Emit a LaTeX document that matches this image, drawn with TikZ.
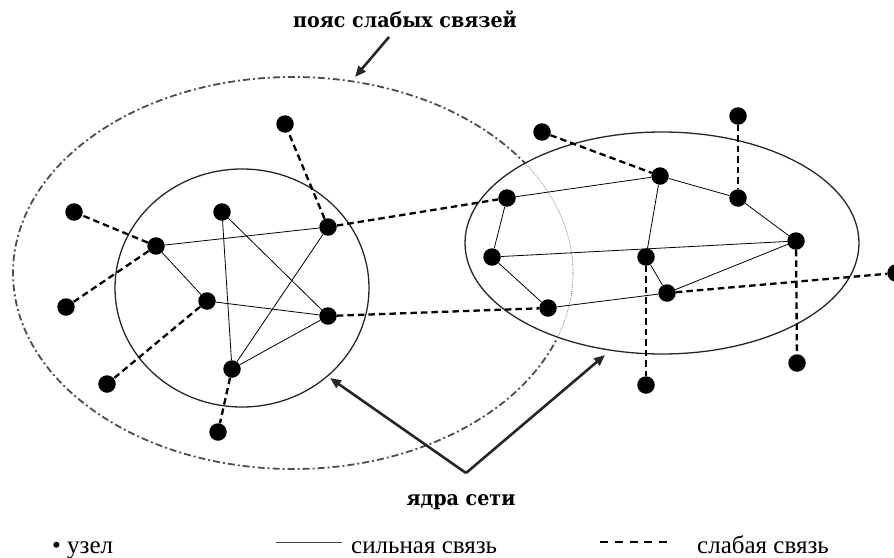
\documentclass[tikz,border=0pt]{standalone}
\usepackage{fontspec}
\setmainfont{Liberation Serif}
\newfontfamily\titlefont{DejaVu Serif}
\usetikzlibrary{arrows.meta}
\begin{document}
\begin{tikzpicture}[x=1pt, y=-1pt,
  dot/.style={circle, fill=black, inner sep=0pt, minimum size=17.5pt},
  strong/.style={line width=0.8pt, black},
  weak/.style={line width=2.3pt, black, dash pattern=on 6.5pt off 4pt},
  core/.style={line width=1.3pt, black!85},
  belt/.style={line width=1.8pt, black!70, dash pattern=on 7pt off 3pt on 2pt off 3pt},
  beltin/.style={line width=0.6pt, black!55, dash pattern=on 1pt off 1pt},
  pointer/.style={line width=2.6pt, black!85, -{Triangle[length=11pt, width=9pt]}},
  title/.style={font=\titlefont\bfseries\fontsize{20.5}{24}\selectfont, inner sep=0pt},
  legend/.style={font=\fontsize{25}{30}\selectfont, inner sep=0pt, anchor=base west}
]
\useasboundingbox (0,0) rectangle (894,557);

% outer belt (dash-dot), lighter dotted inside right core
\begin{scope}[even odd rule]
  \clip (-10,-10) rectangle (904,567) (662,243) ellipse [x radius=197pt, y radius=111pt];
  \draw[belt] (293,273) ellipse [x radius=280pt, y radius=196pt];
\end{scope}
\begin{scope}
  \clip (662,243) ellipse [x radius=197pt, y radius=111pt];
  \draw[beltin] (293,273) ellipse [x radius=280pt, y radius=196pt];
\end{scope}

% cores
\draw[core] (242,288) ellipse [x radius=127pt, y radius=119pt];
\draw[core] (662,243) ellipse [x radius=197pt, y radius=111pt];

% left cluster nodes
\node[dot] (L1) at (156,246) {};
\node[dot] (L2) at (222,212) {};
\node[dot] (L3) at (328,227) {};
\node[dot] (L4) at (207,301) {};
\node[dot] (L5) at (328,316) {};
\node[dot] (L6) at (232,369) {};
\node[dot] (O1) at (74,212) {};
\node[dot] (O2) at (66,307) {};
\node[dot] (O3) at (107,384) {};
\node[dot] (O4) at (218,432) {};
\node[dot] (O5) at (285,124) {};

% right cluster nodes
\node[dot] (R1) at (507,198) {};
\node[dot] (R2) at (492,257) {};
\node[dot] (R3) at (548,308) {};
\node[dot] (R4) at (660,176) {};
\node[dot] (R5) at (738,198) {};
\node[dot] (R6) at (796,241) {};
\node[dot] (R7) at (646,257) {};
\node[dot] (R8) at (667,293) {};
\node[dot] (R9) at (542,132) {};
\node[dot] (R10) at (738,116) {};
\node[dot] (R11) at (646,385) {};
\node[dot] (R12) at (797,363) {};
\node[dot] (R13) at (896,273) {};

% strong links
\draw[strong] (L1) -- (L3);
\draw[strong] (L1) -- (L4);
\draw[strong] (L2) -- (L6);
\draw[strong] (L2) -- (L5);
\draw[strong] (L3) -- (L6);
\draw[strong] (L4) -- (L5);
\draw[strong] (L6) -- (L5);
\draw[strong] (R1) -- (R4);
\draw[strong] (R1) -- (R2);
\draw[strong] (R2) -- (R6);
\draw[strong] (R2) -- (R3);
\draw[strong] (R3) -- (R8);
\draw[strong] (R4) -- (R7);
\draw[strong] (R4) -- (R5);
\draw[strong] (R5) -- (R6);
\draw[strong] (R7) -- (R8);
\draw[strong] (R8) -- (R6);

% weak links
\draw[weak] (L1) -- (O1);
\draw[weak] (L1) -- (O2);
\draw[weak] (L4) -- (O3);
\draw[weak] (L6) -- (O4);
\draw[weak] (L3) -- (O5);
\draw[weak] (L3) -- (R1);
\draw[weak] (L5) -- (R3);
\draw[weak] (R9) -- (R4);
\draw[weak] (R10) -- (R5);
\draw[weak] (R7) -- (R11);
\draw[weak] (R6) -- (R12);
\draw[weak] (R8) -- (R13);

% labels and pointers
\node[title, anchor=base] (belttxt) at (405,27) {\scalebox{0.93}[1]{пояс слабых связей}};
\coordinate (beltfrom) at (389,37);
\coordinate (beltto) at (355,77);
\draw[pointer] (beltfrom) -- (beltto);

\node[title, anchor=base] (coretxt) at (461,505) {\scalebox{0.93}[1]{ядра сети}};
\coordinate (apex) at (466,473);
\coordinate (tipL) at (330,378);
\coordinate (tipR) at (605,355);
\draw[pointer] (apex) -- (tipL);
\draw[pointer] (apex) -- (tipR);

% legend
\node[legend] (lgnode) at (52,553) {• узел};
\coordinate (ls1) at (276,542);
\coordinate (ls2) at (342,542);
\draw[line width=0.9pt, black!75] (ls1) -- (ls2);
\node[legend] (lgstrong) at (351,553) {сильная связь};
\coordinate (lw1) at (600,542);
\coordinate (lw2) at (667,542);
\draw[line width=1.5pt, black, dash pattern=on 8pt off 6.75pt] (lw1) -- (lw2);
\node[legend] (lgweak) at (697,553) {слабая связь};
\end{tikzpicture}
\end{document}
